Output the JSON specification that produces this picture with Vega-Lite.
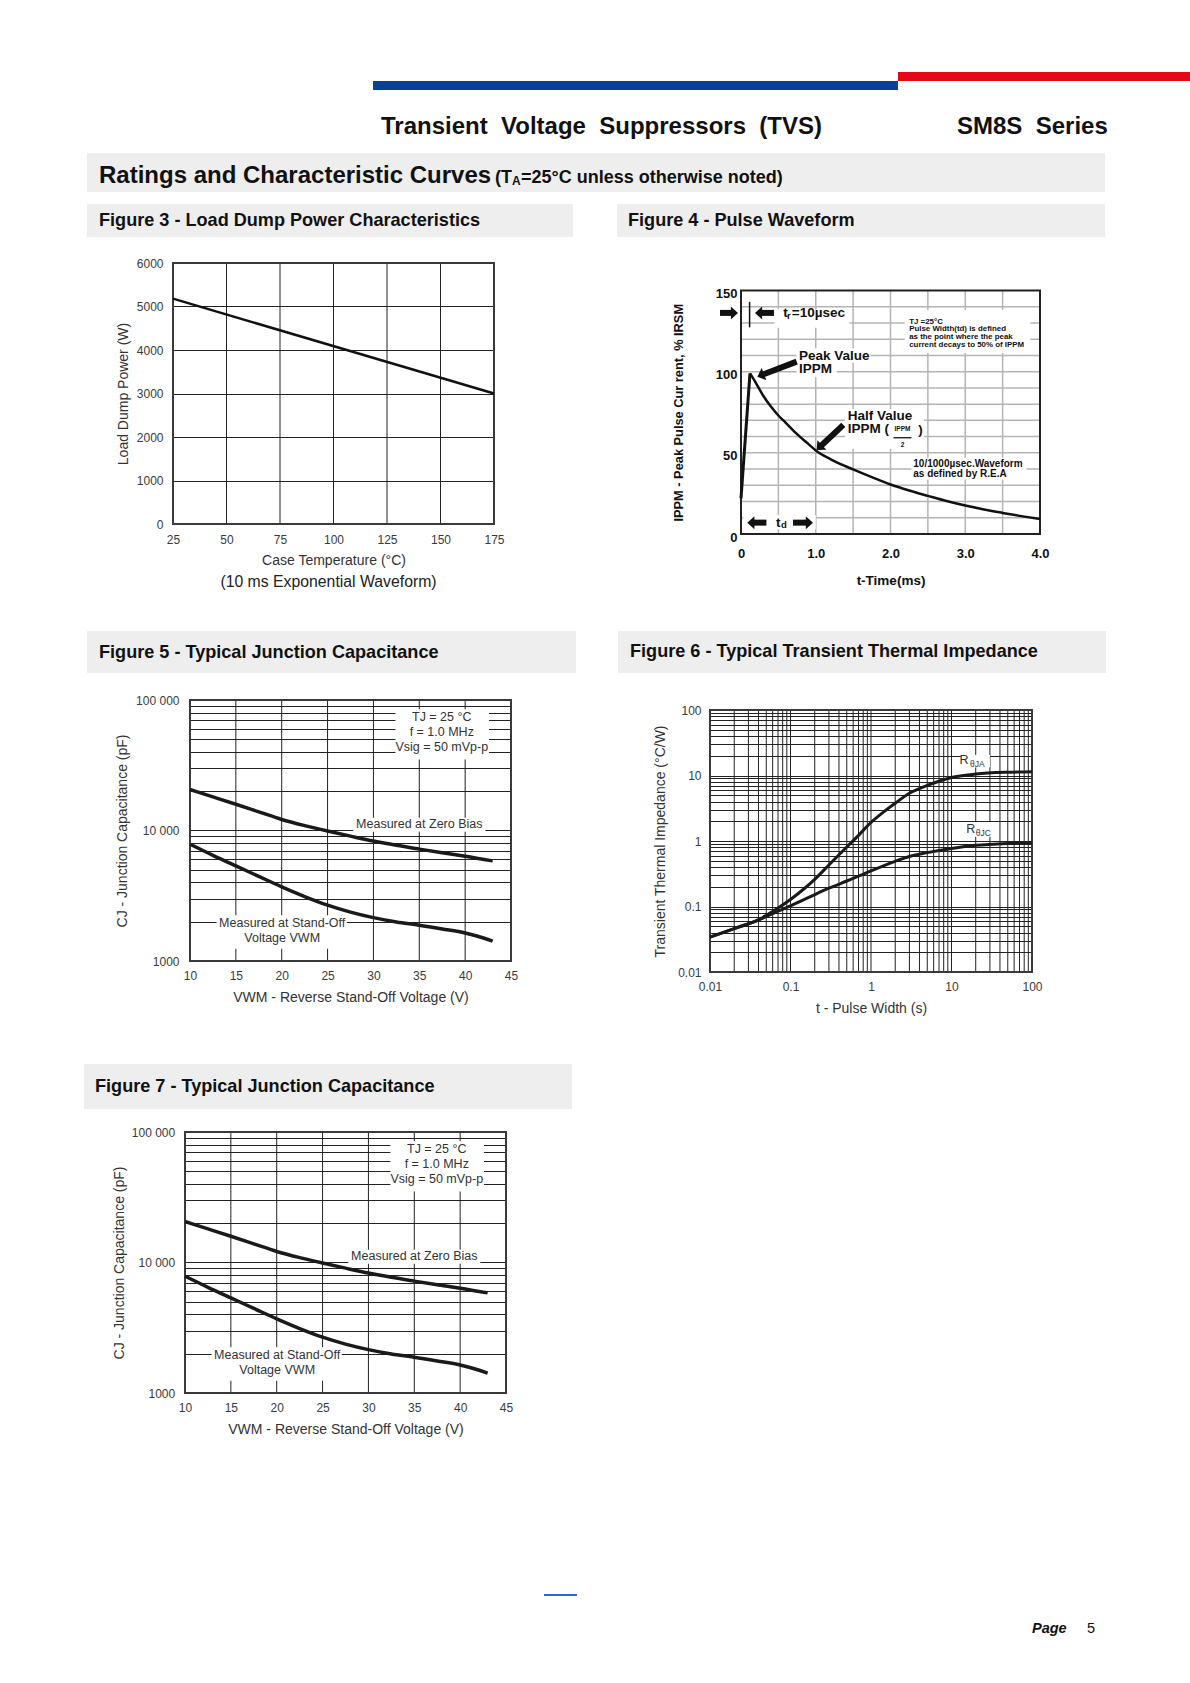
{
  "$schema": "https://vega.github.io/schema/vega-lite/v6.json",
  "background": "white",
  "padding": 0,
  "spacing": 0,
  "bounds": "full",
  "config": {
    "view": {"stroke": null},
    "concat": {"spacing": 0},
    "axis": {
      "labelFont": "Liberation Sans", "titleFont": "Liberation Sans",
      "labelColor": "#3a3a3a", "titleColor": "#333333",
      "labelFontSize": 12, "titleFontSize": 14, "titleFontWeight": "normal",
      "ticks": false, "tickSize": 0, "domain": false, "grid": false,
      "labelFlush": false, "labelOverlap": false
    },
    "text": {"font": "Liberation Sans"}
  },
  "datasets": {
    "fig3_power": [{"case_temp_C": 25, "load_dump_power_W": 5180}, {"case_temp_C": 175, "load_dump_power_W": 3000}],
    "fig4_rise": [{"t_ms": 0, "I_pct": 22}, {"t_ms": 0.12, "I_pct": 99}],
    "fig4_decay": [
      {"t_ms": 0.12, "I_pct": 99}, {"t_ms": 0.2, "I_pct": 93}, {"t_ms": 0.3, "I_pct": 85}, {"t_ms": 0.4, "I_pct": 78.5},
      {"t_ms": 0.5, "I_pct": 73}, {"t_ms": 0.6, "I_pct": 68.5}, {"t_ms": 0.75, "I_pct": 61.5}, {"t_ms": 0.9, "I_pct": 55.5},
      {"t_ms": 1.0, "I_pct": 51.5}, {"t_ms": 1.2, "I_pct": 46}, {"t_ms": 1.5, "I_pct": 39.8}, {"t_ms": 1.75, "I_pct": 35},
      {"t_ms": 2.0, "I_pct": 30.5}, {"t_ms": 2.25, "I_pct": 26.8}, {"t_ms": 2.5, "I_pct": 23.5}, {"t_ms": 2.75, "I_pct": 20.3},
      {"t_ms": 3.0, "I_pct": 17.5}, {"t_ms": 3.25, "I_pct": 15.1}, {"t_ms": 3.5, "I_pct": 13}, {"t_ms": 3.75, "I_pct": 11},
      {"t_ms": 4.0, "I_pct": 9.2}
    ],
    "fig4_vgrid": [{"t_ms": 0.5}, {"t_ms": 1}, {"t_ms": 1.5}, {"t_ms": 2}, {"t_ms": 2.5}, {"t_ms": 3}, {"t_ms": 3.5}],
    "fig4_hgrid": [{"I_pct": 10}, {"I_pct": 20}, {"I_pct": 30}, {"I_pct": 40}, {"I_pct": 50}, {"I_pct": 60}, {"I_pct": 70},
                   {"I_pct": 80}, {"I_pct": 90}, {"I_pct": 100}, {"I_pct": 110}, {"I_pct": 120}, {"I_pct": 130}, {"I_pct": 140}],
    "fig4_boxes": [
      {"t_ms": 0.45, "t2": 1.45, "I_pct": 127, "I2": 138.5},
      {"t_ms": 0.745, "t2": 1.73, "I_pct": 105.5, "I2": 114.5},
      {"t_ms": 0.745, "t2": 1.28, "I_pct": 96.5, "I2": 105.5},
      {"t_ms": 1.39, "t2": 2.45, "I_pct": 52.5, "I2": 77},
      {"t_ms": 2.19, "t2": 3.87, "I_pct": 111.5, "I2": 138},
      {"t_ms": 2.28, "t2": 3.82, "I_pct": 33.5, "I2": 47},
      {"t_ms": 0.03, "t2": 1.0, "I_pct": 3, "I2": 11.5}
    ],
    "fig4_shafts": [
      {"t_ms": -0.281, "t2": -0.088, "I_pct": 136.2, "I2": 136.2},
      {"t_ms": 0.235, "t2": 0.441, "I_pct": 136.2, "I2": 136.2},
      {"t_ms": 0.745, "t2": 0.2635, "I_pct": 106.2, "I2": 97.7},
      {"t_ms": 1.369, "t2": 1.047, "I_pct": 67.2, "I2": 53.3},
      {"t_ms": 0.132, "t2": 0.34, "I_pct": 7, "I2": 7},
      {"t_ms": 0.696, "t2": 0.915, "I_pct": 7, "I2": 7}
    ],
    "fig4_big_text": [
      {"t_ms": 0.776, "I_pct": 109.9, "label": "Peak Value"},
      {"t_ms": 0.776, "I_pct": 101.4, "label": "IPPM"},
      {"t_ms": 1.427, "I_pct": 72.9, "label": "Half Value"},
      {"t_ms": 1.427, "I_pct": 64.5, "label": "IPPM ("},
      {"t_ms": 2.37, "I_pct": 64.3, "label": ")"},
      {"t_ms": 0.566, "I_pct": 136.2, "label": "t"},
      {"t_ms": 0.68, "I_pct": 136.2, "label": "=10µsec"},
      {"t_ms": 0.468, "I_pct": 7, "label": "t"}
    ],
    "fig4_note": [
      {"t_ms": 2.25, "I_pct": 130.4, "label": "TJ =25°C"},
      {"t_ms": 2.25, "I_pct": 126.1, "label": "Pulse Width(td) is defined"},
      {"t_ms": 2.25, "I_pct": 121.6, "label": "as the point where the peak"},
      {"t_ms": 2.25, "I_pct": 116.6, "label": "current decays to 50% of IPPM"}
    ],
    "fig4_wave": [
      {"t_ms": 2.305, "I_pct": 43.1, "label": "10/1000µsec.Waveform"},
      {"t_ms": 2.305, "I_pct": 37, "label": "as defined by R.E.A"}
    ],
    "cap_curves": [
      {"bias": "zero bias", "V_WM": 10, "C_J_pF": 20600}, {"bias": "zero bias", "V_WM": 12.5, "C_J_pF": 18100},
      {"bias": "zero bias", "V_WM": 15, "C_J_pF": 15900}, {"bias": "zero bias", "V_WM": 17.5, "C_J_pF": 13900},
      {"bias": "zero bias", "V_WM": 20, "C_J_pF": 12150}, {"bias": "zero bias", "V_WM": 22.5, "C_J_pF": 10900},
      {"bias": "zero bias", "V_WM": 25, "C_J_pF": 9900}, {"bias": "zero bias", "V_WM": 27.5, "C_J_pF": 9050},
      {"bias": "zero bias", "V_WM": 30, "C_J_pF": 8300}, {"bias": "zero bias", "V_WM": 32.5, "C_J_pF": 7700},
      {"bias": "zero bias", "V_WM": 35, "C_J_pF": 7200}, {"bias": "zero bias", "V_WM": 37.5, "C_J_pF": 6750},
      {"bias": "zero bias", "V_WM": 40, "C_J_pF": 6350}, {"bias": "zero bias", "V_WM": 43, "C_J_pF": 5850},
      {"bias": "stand-off", "V_WM": 10, "C_J_pF": 7850}, {"bias": "stand-off", "V_WM": 12.5, "C_J_pF": 6450},
      {"bias": "stand-off", "V_WM": 15, "C_J_pF": 5350}, {"bias": "stand-off", "V_WM": 17.5, "C_J_pF": 4450},
      {"bias": "stand-off", "V_WM": 20, "C_J_pF": 3700}, {"bias": "stand-off", "V_WM": 22.5, "C_J_pF": 3120},
      {"bias": "stand-off", "V_WM": 25, "C_J_pF": 2680}, {"bias": "stand-off", "V_WM": 27.5, "C_J_pF": 2370},
      {"bias": "stand-off", "V_WM": 30, "C_J_pF": 2150}, {"bias": "stand-off", "V_WM": 32.5, "C_J_pF": 1990},
      {"bias": "stand-off", "V_WM": 35, "C_J_pF": 1880}, {"bias": "stand-off", "V_WM": 37.5, "C_J_pF": 1760},
      {"bias": "stand-off", "V_WM": 40, "C_J_pF": 1640}, {"bias": "stand-off", "V_WM": 42, "C_J_pF": 1500},
      {"bias": "stand-off", "V_WM": 43, "C_J_pF": 1420}
    ],
    "cap_boxes": [
      {"V_WM": 32.4, "V2": 42.6, "C_J_pF": 35000, "C2": 85000},
      {"V_WM": 27.8, "V2": 42.2, "C_J_pF": 9800, "C2": 12500},
      {"V_WM": 12.9, "V2": 27.1, "C_J_pF": 1240, "C2": 2240}
    ],
    "cap_notes": [
      {"V_WM": 37.45, "C_J_pF": 73600, "label": "TJ = 25 °C"},
      {"V_WM": 37.45, "C_J_pF": 56500, "label": "f = 1.0 MHz"},
      {"V_WM": 37.45, "C_J_pF": 43300, "label": "Vsig = 50 mVp-p"},
      {"V_WM": 35.0, "C_J_pF": 11150, "label": "Measured at Zero Bias"},
      {"V_WM": 20.05, "C_J_pF": 1968, "label": "Measured at Stand-Off"},
      {"V_WM": 20.05, "C_J_pF": 1500, "label": "Voltage VWM"}
    ],
    "cap_vgrid": [{"V_WM": 15}, {"V_WM": 20}, {"V_WM": 25}, {"V_WM": 30}, {"V_WM": 35}, {"V_WM": 40}],
    "fig6_curves": [
      {"resistance": "RθJA", "t_s": 0.01, "Z_th": 0.034}, {"resistance": "RθJA", "t_s": 0.02, "Z_th": 0.046},
      {"resistance": "RθJA", "t_s": 0.04, "Z_th": 0.063}, {"resistance": "RθJA", "t_s": 0.07, "Z_th": 0.095},
      {"resistance": "RθJA", "t_s": 0.1, "Z_th": 0.128}, {"resistance": "RθJA", "t_s": 0.15, "Z_th": 0.19},
      {"resistance": "RθJA", "t_s": 0.2, "Z_th": 0.26}, {"resistance": "RθJA", "t_s": 0.3, "Z_th": 0.43},
      {"resistance": "RθJA", "t_s": 0.5, "Z_th": 0.81}, {"resistance": "RθJA", "t_s": 0.7, "Z_th": 1.22},
      {"resistance": "RθJA", "t_s": 1, "Z_th": 1.92}, {"resistance": "RθJA", "t_s": 1.5, "Z_th": 2.9},
      {"resistance": "RθJA", "t_s": 2, "Z_th": 3.77}, {"resistance": "RθJA", "t_s": 3, "Z_th": 5.35},
      {"resistance": "RθJA", "t_s": 5, "Z_th": 7.06}, {"resistance": "RθJA", "t_s": 7, "Z_th": 8.17},
      {"resistance": "RθJA", "t_s": 10, "Z_th": 9.3}, {"resistance": "RθJA", "t_s": 20, "Z_th": 10.5},
      {"resistance": "RθJA", "t_s": 50, "Z_th": 11.2}, {"resistance": "RθJA", "t_s": 100, "Z_th": 11.4},
      {"resistance": "RθJC", "t_s": 0.01, "Z_th": 0.034}, {"resistance": "RθJC", "t_s": 0.02, "Z_th": 0.046},
      {"resistance": "RθJC", "t_s": 0.04, "Z_th": 0.062}, {"resistance": "RθJC", "t_s": 0.07, "Z_th": 0.085},
      {"resistance": "RθJC", "t_s": 0.1, "Z_th": 0.102}, {"resistance": "RθJC", "t_s": 0.2, "Z_th": 0.152},
      {"resistance": "RθJC", "t_s": 0.3, "Z_th": 0.19}, {"resistance": "RθJC", "t_s": 0.5, "Z_th": 0.245},
      {"resistance": "RθJC", "t_s": 0.7, "Z_th": 0.29}, {"resistance": "RθJC", "t_s": 1, "Z_th": 0.35},
      {"resistance": "RθJC", "t_s": 2, "Z_th": 0.49}, {"resistance": "RθJC", "t_s": 3, "Z_th": 0.58},
      {"resistance": "RθJC", "t_s": 5, "Z_th": 0.665}, {"resistance": "RθJC", "t_s": 10, "Z_th": 0.77},
      {"resistance": "RθJC", "t_s": 20, "Z_th": 0.86}, {"resistance": "RθJC", "t_s": 50, "Z_th": 0.92},
      {"resistance": "RθJC", "t_s": 100, "Z_th": 0.94}
    ],
    "fig6_vgrid": [
      {"t_s": 0.02}, {"t_s": 0.03}, {"t_s": 0.04}, {"t_s": 0.05}, {"t_s": 0.06}, {"t_s": 0.07}, {"t_s": 0.08}, {"t_s": 0.09},
      {"t_s": 0.1}, {"t_s": 0.2}, {"t_s": 0.3}, {"t_s": 0.4}, {"t_s": 0.5}, {"t_s": 0.6}, {"t_s": 0.7}, {"t_s": 0.8}, {"t_s": 0.9},
      {"t_s": 1}, {"t_s": 2}, {"t_s": 3}, {"t_s": 4}, {"t_s": 5}, {"t_s": 6}, {"t_s": 7}, {"t_s": 8}, {"t_s": 9},
      {"t_s": 10}, {"t_s": 20}, {"t_s": 30}, {"t_s": 40}, {"t_s": 50}, {"t_s": 60}, {"t_s": 70}, {"t_s": 80}, {"t_s": 90}
    ],
    "fig6_boxes": [{"t_s": 13, "t2": 30, "Z_th": 13.3, "Z2": 20.6}, {"t_s": 15.5, "t2": 32, "Z_th": 1.16, "Z2": 1.95}],
    "fig6_R": [{"t_s": 14.3, "Z_th": 17.3, "label": "R"}, {"t_s": 17.4, "Z_th": 1.52, "label": "R"}],
    "fig6_sub": [{"t_s": 21.0, "Z_th": 14.8, "label": "θJA"}, {"t_s": 24.8, "Z_th": 1.31, "label": "θJC"}]
  },
  "vconcat": [
    {"width": 1190, "height": 72, "data": {"values": []}, "mark": "point"},
    {"hconcat": [
      {"width": 898, "height": 9, "data": {"values": []}, "mark": "point"},
      {"width": 292, "height": 9, "view": {"fill": "#e30a17", "stroke": null}, "data": {"values": []}, "mark": "point"}
    ], "spacing": 0, "bounds": "flush"},
    {"hconcat": [
      {"width": 373, "height": 9, "data": {"values": []}, "mark": "point"},
      {"width": 525, "height": 9, "view": {"fill": "#0b4194", "stroke": null}, "data": {"values": []}, "mark": "point"}
    ], "spacing": 0, "bounds": "flush"},
    {"hconcat": [
      {"width": 381, "height": 63, "data": {"values": []}, "mark": "point"},
      {"width": 576, "height": 63, "data": {"values": []}, "mark": "point",
       "title": {"text": "Transient\u00a0 Voltage\u00a0 Suppressors\u00a0 (TVS)", "anchor": "start", "frame": "group", "orient": "top", "offset": -49, "baseline": "top", "font": "Liberation Sans", "fontSize": 24, "fontWeight": "bold", "color": "#111111", "limit": 2000}},
      {"width": 148, "height": 63, "data": {"values": []}, "mark": "point",
       "title": {"text": "SM8S\u00a0 Series", "anchor": "start", "frame": "group", "orient": "top", "offset": -49, "baseline": "top", "font": "Liberation Sans", "fontSize": 24, "fontWeight": "bold", "color": "#111111", "limit": 2000}}
    ], "spacing": 0, "bounds": "flush"},
    {"hconcat": [
      {"width": 87, "height": 39, "data": {"values": []}, "mark": "point"},
      {"width": 408, "height": 39, "view": {"fill": "#eeeeee", "stroke": null}, "data": {"values": []}, "mark": "point",
       "title": {"text": "Ratings and Characteristic Curves", "anchor": "start", "frame": "group", "orient": "top", "offset": -35, "dx": 12, "baseline": "top", "font": "Liberation Sans", "fontSize": 24, "fontWeight": "bold", "color": "#111111", "limit": 2000}},
      {"width": 17, "height": 39, "view": {"fill": "#eeeeee", "stroke": null}, "data": {"values": []}, "mark": "point",
       "title": {"text": "(T", "anchor": "start", "frame": "group", "orient": "top", "offset": -34, "baseline": "top", "font": "Liberation Sans", "fontSize": 18, "fontWeight": "bold", "color": "#111111", "limit": 2000}},
      {"width": 9, "height": 39, "view": {"fill": "#eeeeee", "stroke": null}, "data": {"values": []}, "mark": "point",
       "title": {"text": "A", "anchor": "start", "frame": "group", "orient": "top", "offset": -35, "baseline": "top", "font": "Liberation Sans", "fontSize": 12, "fontWeight": "bold", "color": "#111111", "limit": 2000}},
      {"width": 584, "height": 39, "view": {"fill": "#eeeeee", "stroke": null}, "data": {"values": []}, "mark": "point",
       "title": {"text": "=25°C unless otherwise noted)", "anchor": "start", "frame": "group", "orient": "top", "offset": -34, "baseline": "top", "font": "Liberation Sans", "fontSize": 18, "fontWeight": "bold", "color": "#111111", "limit": 2000}}
    ], "spacing": 0, "bounds": "flush"},
    {"width": 1190, "height": 12, "data": {"values": []}, "mark": "point"},
    {"hconcat": [
      {"width": 87, "height": 33, "data": {"values": []}, "mark": "point"},
      {"width": 486, "height": 33, "view": {"fill": "#eeeeee", "stroke": null}, "data": {"values": []}, "mark": "point",
       "title": {"text": "Figure 3 - Load Dump Power Characteristics", "anchor": "start", "frame": "group", "orient": "top", "offset": -26.5, "dx": 12, "baseline": "top", "font": "Liberation Sans", "fontSize": 18.1, "fontWeight": "bold", "color": "#111111", "limit": 2000}},
      {"width": 44, "height": 33, "data": {"values": []}, "mark": "point"},
      {"width": 488, "height": 33, "view": {"fill": "#eeeeee", "stroke": null}, "data": {"values": []}, "mark": "point",
       "title": {"text": "Figure 4 - Pulse Waveform", "anchor": "start", "frame": "group", "orient": "top", "offset": -26.5, "dx": 11, "baseline": "top", "font": "Liberation Sans", "fontSize": 18.1, "fontWeight": "bold", "color": "#111111", "limit": 2000}}
    ], "spacing": 0, "bounds": "flush"},
    {"hconcat": [
      {"width": 173, "height": 394, "data": {"values": []}, "mark": "point"},
      {
        "width": 321, "height": 287,
        "title": {"text": "(10 ms Exponential Waveform)", "orient": "bottom", "anchor": "middle", "frame": "group", "offset": 8, "dx": -5, "baseline": "top", "font": "Liberation Sans", "fontSize": 15.8, "fontWeight": "normal", "color": "#222222", "limit": 2000},
        "layer": [
          {"data": {"values": [{"case_temp_C": 50}, {"case_temp_C": 75}, {"case_temp_C": 100}, {"case_temp_C": 125}, {"case_temp_C": 150}]},
           "mark": {"type": "rule", "color": "#222222", "strokeWidth": 1},
           "encoding": {"x": {"field": "case_temp_C", "type": "quantitative"}, "y": {"datum": 0}, "y2": {"datum": 6000}}},
          {"data": {"values": [{}]}, "mark": {"type": "rect", "fill": "transparent", "stroke": "#3a3a3a", "strokeWidth": 2},
           "encoding": {"x": {"datum": 25}, "x2": {"datum": 175}, "y": {"datum": 0}, "y2": {"datum": 6000}}},
          {"data": {"name": "fig3_power"}, "mark": {"type": "line", "color": "#111111", "strokeWidth": 2.5},
           "encoding": {
             "x": {"field": "case_temp_C", "type": "quantitative",
                   "scale": {"domain": [25, 175], "nice": false, "zero": false},
                   "axis": {"values": [25, 50, 75, 100, 125, 150, 175], "title": "Case Temperature (°C)", "labelPadding": 10, "titlePadding": 8, "labelOverlap": false}},
             "y": {"field": "load_dump_power_W", "type": "quantitative",
                   "scale": {"domain": [0, 6000], "range": [287, 26], "nice": false, "zero": false},
                   "axis": {"values": [0, 1000, 2000, 3000, 4000, 5000, 6000], "format": "d", "title": "Load Dump Power (W)", "grid": true, "gridColor": "#222222", "gridWidth": 1, "gridOpacity": 1, "labelPadding": 10, "titlePadding": 6, "labelOverlap": false}}
           }}
        ]
      },
      {"width": 247, "height": 1, "data": {"values": []}, "mark": "point"},
      {
        "width": 299, "height": 297,
        "layer": [
          {"data": {"name": "fig4_vgrid"},
           "mark": {"type": "rule", "color": "#b4b4b4", "strokeWidth": 1.5},
           "encoding": {"x": {"field": "t_ms", "type": "quantitative"}, "y": {"datum": 0}, "y2": {"datum": 150}}},
          {"data": {"name": "fig4_hgrid"},
           "mark": {"type": "rule", "color": "#b4b4b4", "strokeWidth": 1.5},
           "encoding": {"y": {"field": "I_pct", "type": "quantitative"}, "x": {"datum": 0}, "x2": {"datum": 4}}},
          {"data": {"name": "fig4_boxes"}, "mark": {"type": "rect", "fill": "white"},
           "encoding": {"x": {"field": "t_ms", "type": "quantitative"}, "x2": {"field": "t2"}, "y": {"field": "I_pct", "type": "quantitative"}, "y2": {"field": "I2"}}},
          {"data": {"values": [{}]}, "mark": {"type": "rect", "fill": "transparent", "stroke": "#222222", "strokeWidth": 2},
           "encoding": {"x": {"datum": 0}, "x2": {"datum": 4}, "y": {"datum": 0}, "y2": {"datum": 150}}},
          {"data": {"name": "fig4_rise"}, "mark": {"type": "line", "color": "#111111", "strokeWidth": 3},
           "encoding": {"x": {"field": "t_ms", "type": "quantitative"}, "y": {"field": "I_pct", "type": "quantitative"}}},
          {"data": {"name": "fig4_decay"}, "mark": {"type": "line", "color": "#111111", "strokeWidth": 2.5, "interpolate": "monotone"},
           "encoding": {
             "x": {"field": "t_ms", "type": "quantitative",
                   "scale": {"domain": [0, 4], "nice": false, "zero": false},
                   "axis": {"values": [0, 1, 2, 3, 4], "labelExpr": "datum.value == 0 ? '0' : format(datum.value, '.1f')", "title": "t-Time(ms)",
                            "labelFontWeight": "bold", "labelFontSize": 13, "labelColor": "#111111", "labelPadding": 13, "labelOverlap": false,
                            "titleFontWeight": "bold", "titleFontSize": 13.5, "titleColor": "#111111", "titlePadding": 13.5}},
             "y": {"field": "I_pct", "type": "quantitative",
                   "scale": {"domain": [0, 150], "range": [297, 53.5], "nice": false, "zero": false},
                   "axis": {"values": [0, 50, 100, 150], "format": "d",
                            "title": "IPPM - Peak Pulse Cur rent, % IRSM",
                            "labelFontWeight": "bold", "labelFontSize": 13, "labelColor": "#111111", "labelPadding": 4, "labelOffset": 3, "labelOverlap": false,
                            "titleFontWeight": "bold", "titleFontSize": 12.8, "titleColor": "#111111", "titlePadding": 30}}
           }},
          {"data": {"values": [{"t_ms": 0.115, "I_pct": 127.3, "I2": 143}]}, "mark": {"type": "rule", "color": "#111111", "strokeWidth": 1.5},
           "encoding": {"x": {"field": "t_ms", "type": "quantitative"}, "y": {"field": "I_pct", "type": "quantitative"}, "y2": {"field": "I2"}}},
          {"data": {"name": "fig4_shafts"}, "mark": {"type": "rule", "color": "#111111", "strokeWidth": 6},
           "encoding": {"x": {"field": "t_ms", "type": "quantitative"}, "x2": {"field": "t2"}, "y": {"field": "I_pct", "type": "quantitative"}, "y2": {"field": "I2"}}},
          {"data": {"values": [{"t_ms": -0.088, "I_pct": 136.2}, {"t_ms": 0.915, "I_pct": 7}]},
           "mark": {"type": "point", "shape": "M0.55,0L-0.55,-1L-0.55,1Z", "size": 169, "filled": true, "color": "#111111", "opacity": 1, "angle": 0},
           "encoding": {"x": {"field": "t_ms", "type": "quantitative"}, "y": {"field": "I_pct", "type": "quantitative"}}},
          {"data": {"values": [{"t_ms": 0.235, "I_pct": 136.2}, {"t_ms": 0.132, "I_pct": 7}]},
           "mark": {"type": "point", "shape": "M0.55,0L-0.55,-1L-0.55,1Z", "size": 169, "filled": true, "color": "#111111", "opacity": 1, "angle": 180},
           "encoding": {"x": {"field": "t_ms", "type": "quantitative"}, "y": {"field": "I_pct", "type": "quantitative"}}},
          {"data": {"values": [{"t_ms": 0.2635, "I_pct": 97.7}]},
           "mark": {"type": "point", "shape": "M0.55,0L-0.55,-1L-0.55,1Z", "size": 169, "filled": true, "color": "#111111", "opacity": 1, "angle": 159},
           "encoding": {"x": {"field": "t_ms", "type": "quantitative"}, "y": {"field": "I_pct", "type": "quantitative"}}},
          {"data": {"values": [{"t_ms": 1.047, "I_pct": 53.3}]},
           "mark": {"type": "point", "shape": "M0.55,0L-0.55,-1L-0.55,1Z", "size": 169, "filled": true, "color": "#111111", "opacity": 1, "angle": 137},
           "encoding": {"x": {"field": "t_ms", "type": "quantitative"}, "y": {"field": "I_pct", "type": "quantitative"}}},
          {"data": {"values": [{"t_ms": 2.04, "t2": 2.28, "I_pct": 59.3}]}, "mark": {"type": "rule", "color": "#111111", "strokeWidth": 1.3},
           "encoding": {"x": {"field": "t_ms", "type": "quantitative"}, "x2": {"field": "t2"}, "y": {"field": "I_pct", "type": "quantitative"}}},
          {"data": {"name": "fig4_big_text"}, "mark": {"type": "text", "align": "left", "baseline": "middle", "fontSize": 13.5, "fontWeight": "bold", "color": "#111111"},
           "encoding": {"x": {"field": "t_ms", "type": "quantitative"}, "y": {"field": "I_pct", "type": "quantitative"}, "text": {"field": "label"}}},
          {"data": {"values": [{"t_ms": 0.615, "I_pct": 134.2, "label": "r"}, {"t_ms": 0.535, "I_pct": 5.3, "label": "d"}]},
           "mark": {"type": "text", "align": "left", "baseline": "middle", "fontSize": 9.5, "fontWeight": "bold", "color": "#111111"},
           "encoding": {"x": {"field": "t_ms", "type": "quantitative"}, "y": {"field": "I_pct", "type": "quantitative"}, "text": {"field": "label"}}},
          {"data": {"values": [{"t_ms": 2.16, "I_pct": 64.4, "label": "IPPM"}, {"t_ms": 2.16, "I_pct": 54.8, "label": "2"}]},
           "mark": {"type": "text", "align": "center", "baseline": "middle", "fontSize": 6.5, "fontWeight": "bold", "color": "#111111"},
           "encoding": {"x": {"field": "t_ms", "type": "quantitative"}, "y": {"field": "I_pct", "type": "quantitative"}, "text": {"field": "label"}}},
          {"data": {"name": "fig4_note"}, "mark": {"type": "text", "align": "left", "baseline": "middle", "fontSize": 7.9, "fontWeight": "bold", "color": "#111111"},
           "encoding": {"x": {"field": "t_ms", "type": "quantitative"}, "y": {"field": "I_pct", "type": "quantitative"}, "text": {"field": "label"}}},
          {"data": {"name": "fig4_wave"}, "mark": {"type": "text", "align": "left", "baseline": "middle", "fontSize": 10, "fontWeight": "bold", "color": "#111111"},
           "encoding": {"x": {"field": "t_ms", "type": "quantitative"}, "y": {"field": "I_pct", "type": "quantitative"}, "text": {"field": "label"}}}
        ]
      }
    ], "spacing": 0, "bounds": "flush"},
    {"hconcat": [
      {"width": 87, "height": 42, "data": {"values": []}, "mark": "point"},
      {"width": 489, "height": 42, "view": {"fill": "#eeeeee", "stroke": null}, "data": {"values": []}, "mark": "point",
       "title": {"text": "Figure 5 - Typical Junction Capacitance", "anchor": "start", "frame": "group", "orient": "top", "offset": -31.5, "dx": 12, "baseline": "top", "font": "Liberation Sans", "fontSize": 18.1, "fontWeight": "bold", "color": "#111111", "limit": 2000}},
      {"width": 42, "height": 42, "data": {"values": []}, "mark": "point"},
      {"width": 488, "height": 42, "view": {"fill": "#eeeeee", "stroke": null}, "data": {"values": []}, "mark": "point",
       "title": {"text": "Figure 6 - Typical Transient Thermal Impedance", "anchor": "start", "frame": "group", "orient": "top", "offset": -30.5, "dx": 12, "baseline": "top", "font": "Liberation Sans", "fontSize": 18.1, "fontWeight": "bold", "color": "#111111", "limit": 2000}}
    ], "spacing": 0, "bounds": "flush"},
    {"hconcat": [
      {"width": 190, "height": 391, "data": {"values": []}, "mark": "point"},
      {
        "width": 321, "height": 288,
        "layer": [
          {"data": {"name": "cap_vgrid"}, "mark": {"type": "rule", "color": "#222222", "strokeWidth": 1},
           "encoding": {"x": {"field": "V_WM", "type": "quantitative"}, "y": {"datum": 1000}, "y2": {"datum": 100000}}},
          {"data": {"name": "cap_boxes"}, "mark": {"type": "rect", "fill": "white"},
           "encoding": {"x": {"field": "V_WM", "type": "quantitative"}, "x2": {"field": "V2"}, "y": {"field": "C_J_pF", "type": "quantitative"}, "y2": {"field": "C2"}}},
          {"data": {"values": [{}]}, "mark": {"type": "rect", "fill": "transparent", "stroke": "#3a3a3a", "strokeWidth": 2},
           "encoding": {"x": {"datum": 10}, "x2": {"datum": 45}, "y": {"datum": 1000}, "y2": {"datum": 100000}}},
          {"data": {"name": "cap_curves"}, "mark": {"type": "line", "color": "#1a1a1a", "strokeWidth": 3.5, "interpolate": "monotone"},
           "encoding": {
             "x": {"field": "V_WM", "type": "quantitative",
                   "scale": {"domain": [10, 45], "nice": false, "zero": false},
                   "axis": {"values": [10, 15, 20, 25, 30, 35, 40, 45], "title": "VWM - Reverse Stand-Off Voltage (V)", "labelPadding": 9, "titlePadding": 9, "labelOverlap": false}},
             "y": {"field": "C_J_pF", "type": "quantitative",
                   "scale": {"type": "log", "domain": [1000, 100000], "range": [288, 27], "nice": false},
                   "axis": {"values": [1000, 2000, 3000, 4000, 5000, 6000, 7000, 8000, 9000, 10000, 20000, 30000, 40000, 50000, 60000, 70000, 80000, 90000, 100000],
                            "labelExpr": "datum.value == 100000 ? '100 000' : datum.value == 10000 ? '10 000' : datum.value == 1000 ? '1000' : ''",
                            "grid": true, "gridColor": "#222222", "gridWidth": 1, "gridOpacity": 1, "labelOverlap": false,
                            "title": "CJ - Junction Capacitance (pF)", "labelPadding": 11, "titlePadding": 6.5}},
             "detail": {"field": "bias", "type": "nominal"}
           }},
          {"data": {"name": "cap_notes"}, "mark": {"type": "text", "align": "center", "baseline": "middle", "fontSize": 12.5, "color": "#333333"},
           "encoding": {"x": {"field": "V_WM", "type": "quantitative"}, "y": {"field": "C_J_pF", "type": "quantitative"}, "text": {"field": "label"}}}
        ]
      },
      {"width": 199, "height": 1, "data": {"values": []}, "mark": "point"},
      {
        "width": 322, "height": 299,
        "layer": [
          {"data": {"name": "fig6_vgrid"}, "mark": {"type": "rule", "color": "#222222", "strokeWidth": 1},
           "encoding": {"x": {"field": "t_s", "type": "quantitative"}, "y": {"datum": 0.01}, "y2": {"datum": 100}}},
          {"data": {"name": "fig6_boxes"}, "mark": {"type": "rect", "fill": "white"},
           "encoding": {"x": {"field": "t_s", "type": "quantitative"}, "x2": {"field": "t2"}, "y": {"field": "Z_th", "type": "quantitative"}, "y2": {"field": "Z2"}}},
          {"data": {"values": [{}]}, "mark": {"type": "rect", "fill": "transparent", "stroke": "#3a3a3a", "strokeWidth": 2},
           "encoding": {"x": {"datum": 0.01}, "x2": {"datum": 100}, "y": {"datum": 0.01}, "y2": {"datum": 100}}},
          {"data": {"name": "fig6_curves"}, "mark": {"type": "line", "color": "#1a1a1a", "strokeWidth": 3, "interpolate": "monotone"},
           "encoding": {
             "x": {"field": "t_s", "type": "quantitative",
                   "scale": {"type": "log", "domain": [0.01, 100], "nice": false},
                   "axis": {"values": [0.01, 0.1, 1, 10, 100], "format": "~g", "title": "t - Pulse Width (s)", "labelPadding": 9, "titlePadding": 9, "labelOverlap": false}},
             "y": {"field": "Z_th", "type": "quantitative",
                   "scale": {"type": "log", "domain": [0.01, 100], "range": [299, 37], "nice": false},
                   "axis": {"values": [0.01, 0.02, 0.03, 0.04, 0.05, 0.06, 0.07, 0.08, 0.09, 0.1, 0.2, 0.3, 0.4, 0.5, 0.6, 0.7, 0.8, 0.9, 1, 2, 3, 4, 5, 6, 7, 8, 9, 10, 20, 30, 40, 50, 60, 70, 80, 90, 100],
                            "labelExpr": "(datum.value == 0.01 || datum.value == 0.1 || datum.value == 1 || datum.value == 10 || datum.value == 100) ? format(datum.value, '~g') : ''",
                            "grid": true, "gridColor": "#222222", "gridWidth": 1, "gridOpacity": 1, "labelOverlap": false,
                            "title": "Transient Thermal Impedance (°C/W)", "labelPadding": 9, "titlePadding": 10}},
             "detail": {"field": "resistance", "type": "nominal"}
           }},
          {"data": {"name": "fig6_R"}, "mark": {"type": "text", "align": "center", "baseline": "middle", "fontSize": 12.5, "color": "#333333"},
           "encoding": {"x": {"field": "t_s", "type": "quantitative"}, "y": {"field": "Z_th", "type": "quantitative"}, "text": {"field": "label"}}},
          {"data": {"name": "fig6_sub"}, "mark": {"type": "text", "align": "center", "baseline": "middle", "fontSize": 8.5, "color": "#333333"},
           "encoding": {"x": {"field": "t_s", "type": "quantitative"}, "y": {"field": "Z_th", "type": "quantitative"}, "text": {"field": "label"}}}
        ]
      }
    ], "spacing": 0, "bounds": "flush"},
    {"hconcat": [
      {"width": 84, "height": 45, "data": {"values": []}, "mark": "point"},
      {"width": 488, "height": 45, "view": {"fill": "#eeeeee", "stroke": null}, "data": {"values": []}, "mark": "point",
       "title": {"text": "Figure 7 - Typical Junction Capacitance", "anchor": "start", "frame": "group", "orient": "top", "offset": -32.5, "dx": 11, "baseline": "top", "font": "Liberation Sans", "fontSize": 18.1, "fontWeight": "bold", "color": "#111111", "limit": 2000}}
    ], "spacing": 0, "bounds": "flush"},
    {"hconcat": [
      {"width": 185, "height": 485, "data": {"values": []}, "mark": "point"},
      {
        "width": 321, "height": 284,
        "layer": [
          {"data": {"name": "cap_vgrid"}, "mark": {"type": "rule", "color": "#222222", "strokeWidth": 1},
           "encoding": {"x": {"field": "V_WM", "type": "quantitative"}, "y": {"datum": 1000}, "y2": {"datum": 100000}}},
          {"data": {"name": "cap_boxes"}, "mark": {"type": "rect", "fill": "white"},
           "encoding": {"x": {"field": "V_WM", "type": "quantitative"}, "x2": {"field": "V2"}, "y": {"field": "C_J_pF", "type": "quantitative"}, "y2": {"field": "C2"}}},
          {"data": {"values": [{}]}, "mark": {"type": "rect", "fill": "transparent", "stroke": "#3a3a3a", "strokeWidth": 2},
           "encoding": {"x": {"datum": 10}, "x2": {"datum": 45}, "y": {"datum": 1000}, "y2": {"datum": 100000}}},
          {"data": {"name": "cap_curves"}, "mark": {"type": "line", "color": "#1a1a1a", "strokeWidth": 3.5, "interpolate": "monotone"},
           "encoding": {
             "x": {"field": "V_WM", "type": "quantitative",
                   "scale": {"domain": [10, 45], "nice": false, "zero": false},
                   "axis": {"values": [10, 15, 20, 25, 30, 35, 40, 45], "title": "VWM - Reverse Stand-Off Voltage (V)", "labelPadding": 9, "titlePadding": 9, "labelOverlap": false}},
             "y": {"field": "C_J_pF", "type": "quantitative",
                   "scale": {"type": "log", "domain": [1000, 100000], "range": [284, 23], "nice": false},
                   "axis": {"values": [1000, 2000, 3000, 4000, 5000, 6000, 7000, 8000, 9000, 10000, 20000, 30000, 40000, 50000, 60000, 70000, 80000, 90000, 100000],
                            "labelExpr": "datum.value == 100000 ? '100 000' : datum.value == 10000 ? '10 000' : datum.value == 1000 ? '1000' : ''",
                            "grid": true, "gridColor": "#222222", "gridWidth": 1, "gridOpacity": 1, "labelOverlap": false,
                            "title": "CJ - Junction Capacitance (pF)", "labelPadding": 10.3, "titlePadding": 5}},
             "detail": {"field": "bias", "type": "nominal"}
           }},
          {"data": {"name": "cap_notes"}, "mark": {"type": "text", "align": "center", "baseline": "middle", "fontSize": 12.5, "color": "#333333"},
           "encoding": {"x": {"field": "V_WM", "type": "quantitative"}, "y": {"field": "C_J_pF", "type": "quantitative"}, "text": {"field": "label"}}}
        ]
      }
    ], "spacing": 0, "bounds": "flush"},
    {"hconcat": [
      {"width": 544, "height": 2, "data": {"values": []}, "mark": "point"},
      {"width": 33, "height": 2, "view": {"fill": "#3366cc", "stroke": null}, "data": {"values": []}, "mark": "point"}
    ], "spacing": 0, "bounds": "flush"},
    {"hconcat": [
      {"width": 1032, "height": 87, "data": {"values": []}, "mark": "point"},
      {"width": 55, "height": 45, "data": {"values": []}, "mark": "point",
       "title": {"text": "Page", "anchor": "start", "frame": "group", "orient": "top", "offset": -40.5, "baseline": "top", "font": "Liberation Sans", "fontSize": 14.5, "fontWeight": "bold", "fontStyle": "italic", "color": "#111111", "limit": 2000}},
      {"width": 20, "height": 45, "data": {"values": []}, "mark": "point",
       "title": {"text": "5", "anchor": "start", "frame": "group", "orient": "top", "offset": -40.5, "baseline": "top", "font": "Liberation Sans", "fontSize": 14.5, "fontWeight": "normal", "color": "#111111", "limit": 2000}}
    ], "spacing": 0, "bounds": "flush"}
  ]
}
